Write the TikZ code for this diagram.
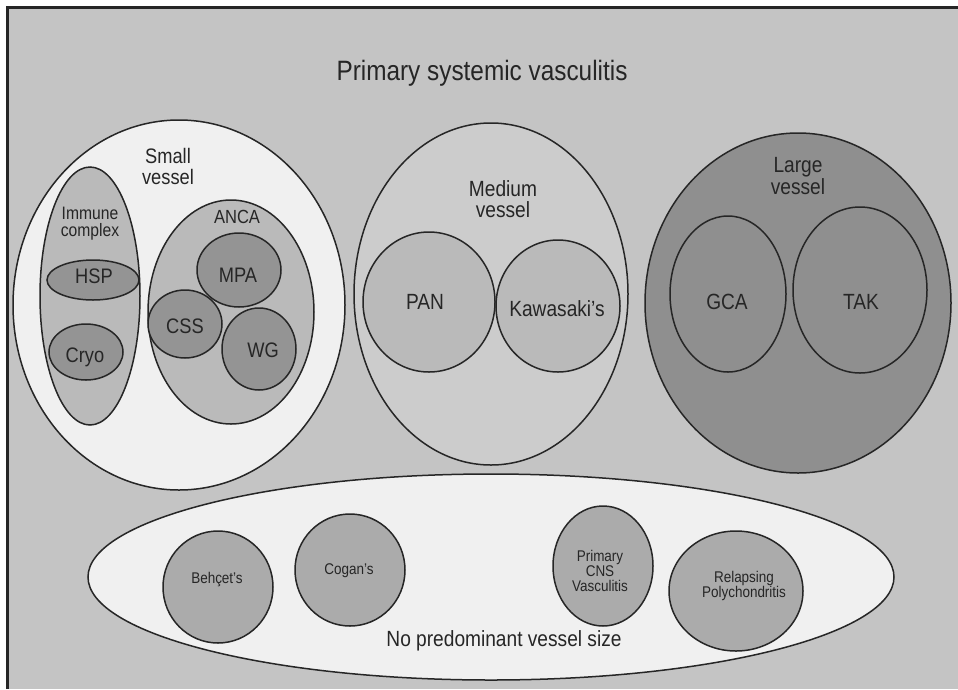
\documentclass[tikz,border=0pt]{standalone}
\usepackage{fontspec}
\setmainfont{Liberation Sans}[FakeStretch=0.87]
\usetikzlibrary{shapes.geometric}
\newcommand{\fsz}[1]{\fontsize{#1}{1.15\dimexpr#1pt\relax}\selectfont}
\definecolor{panel}{gray}{0.77}
\definecolor{pale}{gray}{0.94}
\definecolor{midgray}{gray}{0.73}
\definecolor{darkgray}{gray}{0.58}
\definecolor{medfill}{gray}{0.80}
\definecolor{largefill}{gray}{0.56}
\definecolor{otherfill}{gray}{0.67}
\definecolor{ink}{gray}{0.15}
\begin{document}
\begin{tikzpicture}[x=1pt,y=-1pt,
  blob/.style={ellipse, draw=ink, line width=1.5pt, inner sep=0pt},
  lbl/.style={align=center, inner sep=0pt, text=ink},
]
\fill[white] (0,0) rectangle (958,689);
\useasboundingbox (0,0) rectangle (958,689);
% panel with frame on the visible edges
\fill[panel] (7,7) rectangle (958,689);
\draw[line width=3pt, ink] (7,689) -- (7,7) -- (958,7);

\node[lbl, font=\fsz{28}] (title) at (482,73) {Primary systemic vasculitis};

% small vessel group
\node[blob, fill=pale, minimum width=332pt, minimum height=370pt] (small) at (179,305) {};
\node[lbl, font=\fsz{21}, align=center, text depth=0pt] (smalltxt) at (168,166) {Small\\[-3pt]vessel};
\node[blob, fill=midgray, minimum width=100pt, minimum height=258pt] (immune) at (90,296) {};
\node[lbl, font=\fsz{18}] (immunetxt) at (90,224) {Immune\\[-4pt]complex};
\node[blob, fill=darkgray, minimum width=92pt, minimum height=40pt] (hsp) at (93,280) {};
\node[lbl, font=\fsz{21}] (hsptxt) at (94,276) {HSP};
\node[blob, fill=darkgray, minimum width=74pt, minimum height=56pt] (cryo) at (86,352) {};
\node[lbl, font=\fsz{21}] (cryotxt) at (85,357) {Cryo};
\node[blob, fill=midgray, minimum width=166pt, minimum height=224pt] (anca) at (231,312) {};
\node[lbl, font=\fsz{19}] (ancatxt) at (237,217) {ANCA};
\node[blob, fill=darkgray, minimum width=84pt, minimum height=74pt] (mpa) at (239,270) {};
\node[lbl, font=\fsz{21}] (mpatxt) at (238,275) {MPA};
\node[blob, fill=darkgray, minimum width=74pt, minimum height=68pt] (css) at (185,324) {};
\node[lbl, font=\fsz{21}] (csstxt) at (185,326) {CSS};
\node[blob, fill=darkgray, minimum width=74pt, minimum height=82pt] (wg) at (259,349) {};
\node[lbl, font=\fsz{21}] (wgtxt) at (263,350) {WG};

% medium vessel group
\node[blob, fill=medfill, minimum width=274pt, minimum height=342pt] (medium) at (491,294) {};
\node[lbl, font=\fsz{22}] (mediumtxt) at (503,199) {Medium\\[-4pt]vessel};
\node[blob, fill=midgray, minimum width=132pt, minimum height=140pt] (pan) at (429,302) {};
\node[lbl, font=\fsz{22}] (pantxt) at (425,302) {PAN};
\node[blob, fill=midgray, minimum width=124pt, minimum height=132pt] (kawa) at (558,306) {};
\node[lbl, font=\fsz{22}] (kawatxt) at (557,309) {Kawasaki's};

% large vessel group
\node[blob, fill=largefill, minimum width=306pt, minimum height=340pt] (large) at (798,303) {};
\node[lbl, font=\fsz{22}] (largetxt) at (798,176) {Large\\[-3pt]vessel};
\node[blob, fill=largefill, minimum width=116pt, minimum height=156pt] (gca) at (728,294) {};
\node[lbl, font=\fsz{22}] (gcatxt) at (727,302) {GCA};
\node[blob, fill=largefill, minimum width=134pt, minimum height=166pt] (tak) at (860,290) {};
\node[lbl, font=\fsz{22}] (taktxt) at (861,302) {TAK};

% no predominant vessel size
\node[blob, fill=pale, minimum width=806pt, minimum height=206pt] (other) at (491,577) {};
\node[lbl, font=\fsz{22}] (othertxt) at (504,641) {No predominant vessel size};
\node[blob, fill=otherfill, minimum width=110pt, minimum height=112pt] (behcet) at (218,587) {};
\node[lbl, font=\fsz{15.5}] (behcettxt) at (217,580) {Behçet's};
\node[blob, fill=otherfill, minimum width=110pt, minimum height=112pt] (cogan) at (350,570) {};
\node[lbl, font=\fsz{15.5}] (cogantxt) at (349,571) {Cogan's};
\node[blob, fill=otherfill, minimum width=100pt, minimum height=120pt] (cns) at (603,566) {};
\node[lbl, font=\fsz{15.5}] (cnstxt) at (600,571) {Primary\\[-3pt]CNS\\[-3pt]Vasculitis};
\node[blob, fill=otherfill, minimum width=134pt, minimum height=120pt] (rp) at (736,591) {};
\node[lbl, font=\fsz{15.5}] (rptxt) at (744,586) {Relapsing\\[-3pt]Polychondritis};
\end{tikzpicture}
\end{document}
